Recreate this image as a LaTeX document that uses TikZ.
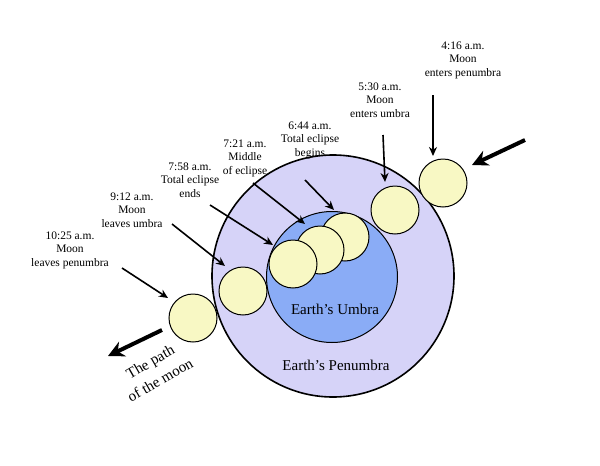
\documentclass[tikz,border=0pt]{standalone}
\usepackage{fontspec}
\setmainfont{Liberation Serif}
\usetikzlibrary{arrows.meta}
\definecolor{pen}{HTML}{D6D3F8}
\definecolor{umb}{HTML}{8AACF6}
\definecolor{moon}{HTML}{F8F8C4}
\begin{document}
\begin{tikzpicture}[x=1pt,y=-1pt,
  moonc/.style={circle,draw=black,line width=1pt,fill=moon,minimum size=48pt,inner sep=0pt},
  lab/.style={align=center,font=\fontsize{11.5}{13.5}\selectfont,inner sep=1pt},
  ptr/.style={-{Stealth[length=9pt,width=8pt]},line width=1.6pt},
  big/.style={-{Stealth[length=16pt,width=16pt]},line width=4pt},
  pathtxt/.style={font=\fontsize{15}{15}\selectfont,rotate=30,inner sep=0pt}]
\useasboundingbox (0,0) rectangle (600,466);
\fill[white] (0,0) rectangle (600,466);
\node[circle,draw=black,line width=1.6pt,fill=pen,minimum size=242pt,inner sep=0pt] (pen) at (333,276) {};
\node[circle,draw=black,line width=1pt,fill=umb,minimum size=131pt,inner sep=0pt] (umb) at (332,277) {};
\node[font=\fontsize{15}{17}\selectfont] (ul) at (335,309) {Earth’s Umbra};
\node[font=\fontsize{15}{17}\selectfont] (pl) at (336,365) {Earth’s Penumbra};
\node[moonc] (m1) at (443,183) {};
\node[moonc] (m2) at (395,210) {};
\node[moonc] (m7) at (193,318) {};
\node[moonc] (m6) at (243,291) {};
\node[moonc] (m3) at (345,237) {};
\node[moonc] (m4) at (320,250) {};
\node[moonc] (m5) at (293,264) {};
\node[lab] (l1) at (463,60) {4:16 a.m.\\Moon\\enters penumbra};
\node[lab] (l2) at (380,100) {5:30 a.m.\\Moon\\enters umbra};
\node[lab] (l3) at (310,140) {6:44 a.m.\\Total eclipse\\begins};
\node[lab] (l4) at (245,158) {7:21 a.m.\\Middle\\of eclipse};
\node[lab] (l5) at (190,180) {7:58 a.m.\\Total eclipse\\ends};
\node[lab] (l6) at (132,210) {9:12 a.m.\\Moon\\leaves umbra};
\node[lab] (l7) at (70,250) {10:25 a.m.\\Moon\\leaves penumbra};
\coordinate (s1) at (433,95); \coordinate (e1) at (433,156);
\coordinate (s2) at (383,135); \coordinate (e2) at (385,182);
\coordinate (s3) at (305,180); \coordinate (e3) at (334,210);
\coordinate (s4) at (253,183); \coordinate (e4) at (305,224);
\coordinate (s5) at (210,205); \coordinate (e5) at (273,245);
\coordinate (s6) at (172,224); \coordinate (e6) at (225,266);
\coordinate (s7) at (122,268); \coordinate (e7) at (168,298);
\foreach \i in {1,...,7} \draw[ptr] (s\i) -- (e\i);
\coordinate (ba) at (525,140); \coordinate (bb) at (472,165);
\coordinate (bc) at (162,330); \coordinate (bd) at (108,356);
\draw[big] (ba) -- (bb);
\draw[big] (bc) -- (bd);
\node[pathtxt] (path1) at (151,363) {The path};
\node[pathtxt] (path2) at (160,380) {of the moon};
\end{tikzpicture}
\end{document}
